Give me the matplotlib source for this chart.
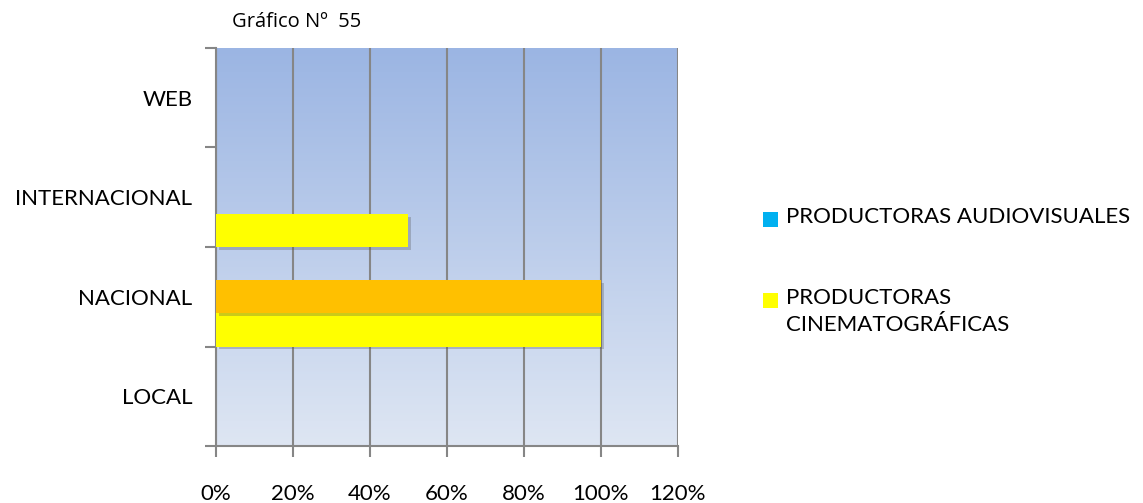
import matplotlib.pyplot as plt
import matplotlib.patheffects as pe
from matplotlib.patches import Rectangle
import numpy as np

plt.rcParams['font.family'] = ['Lato', 'DejaVu Sans']

categorias = ['LOCAL', 'NACIONAL', 'INTERNACIONAL', 'WEB']
cinematograficas = [0.0, 1.0, 0.5, 0.0]
otra_serie = [0.0, 1.0, 0.0, 0.0]
audiovisuales = [0.0, 0.0, 0.0, 0.0]
xticks = [0, 0.2, 0.4, 0.6, 0.8, 1.0, 1.2]
xlabels = ['0%', '20%', '40%', '60%', '80%', '100%', '120%']

fig = plt.figure(figsize=(11.43, 5.03), dpi=100)
ax = fig.add_axes([0.189, 0.1133, 0.404, 0.7913])

# background gradient (darker blue on top)
grad = np.linspace(0, 1, 256).reshape(-1, 1)
top = np.array([155, 181, 227]) / 255
bot = np.array([222, 230, 243]) / 255
img = bot * (1 - grad[..., None]) + top * grad[..., None]
ax.imshow(img, extent=[0, 1.2, -0.5, 3.5], origin='lower', aspect='auto', zorder=0)

y = np.arange(len(categorias))
h = 1 / 3
shadow = [pe.SimplePatchShadow(offset=(2, -2), shadow_rgbFace='#555555', alpha=0.3), pe.Normal()]
ax.barh(y - h, cinematograficas, height=h, color='#FFFF00', zorder=3, path_effects=shadow)
ax.barh(y, otra_serie, height=h, color='#FFC000', zorder=3, path_effects=shadow)
ax.barh(y + h, audiovisuales, height=h, color='#00B0F0', zorder=3)

ax.set_xlim(0, 1.2)
ax.set_ylim(-0.5, 3.5)
ax.set_xticks(xticks)
ax.set_xticklabels(xlabels, fontsize=16)
ax.set_yticks(y)
ax.set_yticklabels(categorias, fontsize=16)
ax.set_yticks(np.arange(-0.5, 4, 1), minor=True)
ax.tick_params(axis='y', which='major', length=0, pad=17)
ax.tick_params(axis='y', which='minor', length=8, width=1.5, color='#868686')
ax.tick_params(axis='x', length=8, width=1.5, color='#868686', pad=19)
ax.grid(axis='x', color='#868686', linewidth=1.5, zorder=1)
ax.set_axisbelow(False)
for s in ['top', 'right']:
    ax.spines[s].set_visible(False)
for s in ['left', 'bottom']:
    ax.spines[s].set_color('#868686')
    ax.spines[s].set_linewidth(1.5)
    ax.spines[s].set_zorder(2)

fig.text(232 / 1143, 1 - 22 / 503, 'Gráfico Nº  55', fontsize=14.5, va='center', ha='left',
         family=['Open Sans', 'DejaVu Sans'])

# legend
W, H = 1143, 503
leg = [('#00B0F0', 'PRODUCTORAS AUDIOVISUALES', 219), ('#FFFF00', 'PRODUCTORAS\nCINEMATOGRÁFICAS', 300)]
for col, lab, yy in leg:
    fig.patches.append(Rectangle((763 / W, 1 - (yy + 8) / H), 15 / W, 15 / H,
                                 transform=fig.transFigure, facecolor=col, edgecolor='none'))
    fig.text(786 / W, 1 - (yy - 12) / H, lab, fontsize=16, va='top', ha='left', linespacing=1.45)

fig.savefig('out.png', dpi=100)
